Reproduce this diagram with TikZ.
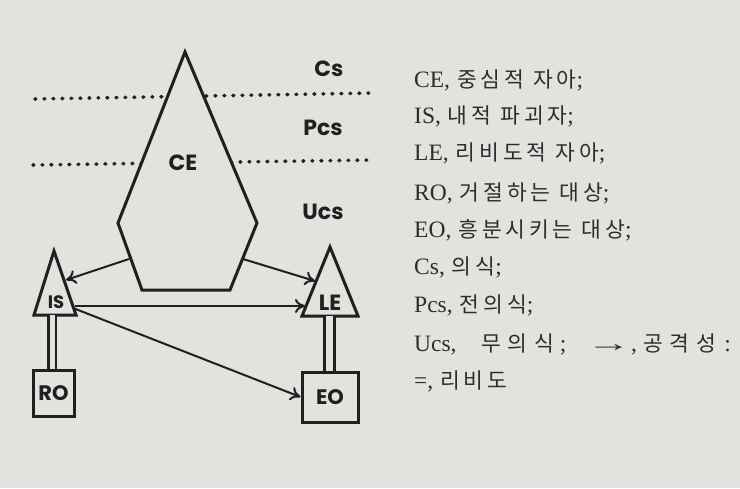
\documentclass[tikz,border=0pt]{standalone}
\usepackage{fontspec}
\usepackage{graphicx}
\setmainfont{Liberation Serif}
\newfontfamily\kr[LetterSpace=18]{Noto Sans CJK KR}
\newfontfamily\krp{Noto Sans CJK KR}
\newfontfamily\geo{Poppins}
\usetikzlibrary{arrows.meta}
\definecolor{paper}{RGB}{226,226,223}
\definecolor{ink}{RGB}{32,32,32}
\definecolor{txt}{RGB}{45,45,45}
\tikzset{
  shapeline/.style={draw=ink, line width=3pt, line join=miter},
  arr/.style={draw=ink, line width=2pt, -{To[length=10pt,width=14pt,line width=2pt]}},
  dots/.style={draw=ink, line width=3.6pt, line cap=round, dash pattern=on 0.8pt off 8.2pt},
  dbl/.style={draw=ink, line width=2.6pt, double=paper},
  boxnode/.style={draw=ink, line width=3pt, inner sep=0pt, font=\geo\bfseries\fontsize{21}{21}\selectfont, text=ink},
  lbl/.style={font=\geo\bfseries\fontsize{22}{22}\selectfont, text=ink, inner sep=0pt},
  slbl/.style={font=\geo\bfseries\fontsize{18}{18}\selectfont, text=ink, inner sep=0pt},
  legend/.style={anchor=base west, inner sep=0pt, text=txt, font=\fontsize{23.5}{23.5}\selectfont}
}
\newcommand{\K}[1]{{\kr\fontsize{21.5}{21.5}\selectfont #1}}
\newcommand{\KP}[1]{{\krp\fontsize{21.5}{21.5}\selectfont #1}}
\begin{document}
\begin{tikzpicture}[x=1pt,y=-1pt]
\fill[paper] (0,0) rectangle (740,488);
\useasboundingbox (0,0) rectangle (740,488);
% level lines
\coordinate (d1a) at (35,99);
\coordinate (d1b) at (373,93);
\coordinate (d2a) at (33,165);
\coordinate (d2b) at (372,160);
\draw[dots] (d1a) -- (d1b);
\draw[dots] (d2a) -- (d2b);
% CE
\coordinate (ceT) at (185,52);
\coordinate (ceR) at (257,223);
\coordinate (ceBR) at (230,290);
\coordinate (ceBL) at (142,290);
\coordinate (ceL) at (118,223);
\fill[paper] (ceT) -- (ceR) -- (ceBR) -- (ceBL) -- (ceL) -- cycle;
\draw[shapeline] (ceT) -- (ceR) -- (ceBR) -- (ceBL) -- (ceL) -- cycle;
\node[lbl] (CE) at (183,163) {CE};
\node[lbl] (Cs) at (329,69) {Cs};
\node[lbl] (Pcs) at (323,128) {Pcs};
\node[lbl] (Ucs) at (323,212) {Ucs};
% IS triangle
\coordinate (isT) at (54,251);
\coordinate (isR) at (76,315);
\coordinate (isL) at (34,315);
\draw[shapeline] (isT) -- (isR) -- (isL) -- cycle;
\node[slbl] (IS) at (56,302) {IS};
% LE triangle
\coordinate (leT) at (330,247);
\coordinate (leR) at (358,316);
\coordinate (leL) at (302,316);
\draw[shapeline] (leT) -- (leR) -- (leL) -- cycle;
\node[lbl] (LE) at (330,303) {LE};
% boxes
\node[boxnode, minimum width=41pt, minimum height=46pt] (RO) at (53.5,393) {RO};
\node[boxnode, minimum width=56pt, minimum height=50pt] (EO) at (330,397) {EO};
% libido links
\coordinate (isB) at (52,315);
\coordinate (leB) at (329.5,316);
\draw[dbl, double distance=5pt] (isB) -- (RO.north -| isB);
\draw[dbl, double distance=7pt] (leB) -- (EO.north -| leB);
% aggression arrows
\coordinate (ceA1) at (129,259);
\coordinate (ceA2) at (243,259);
\coordinate (isIn) at (66,280);
\coordinate (leIn) at (315,281);
\coordinate (isOut) at (75,306);
\coordinate (isOut2) at (73,308);
\coordinate (leIn2) at (305,306);
\draw[arr] (ceA1) -- (isIn);
\draw[arr] (ceA2) -- (leIn);
\draw[arr] (isOut) -- (leIn2);
\draw[arr] (isOut2) -- (EO.west);
% legend
\node[legend] (l1) at (414,87) {CE,\hspace{7pt}\K{중심적\hspace{9pt}자아};};
\node[legend] (l2) at (414,123) {IS,\hspace{7pt}\K{내적\hspace{9pt}파괴자};};
\node[legend] (l3) at (414,160) {LE,\hspace{7pt}\K{리비도적\hspace{9pt}자아};};
\node[legend] (l4) at (414,200) {RO,\hspace{7pt}\K{거절하는\hspace{9pt}대상};};
\node[legend] (l5) at (414,237) {EO,\hspace{7pt}\K{흥분시키는\hspace{9pt}대상};};
\node[legend] (l6) at (414,274) {Cs,\hspace{7pt}\K{의식};};
\node[legend] (l7) at (414,312) {Pcs,\hspace{7pt}\K{전의식};};
\node[legend] (l8) at (414,351) {Ucs,\hspace{25pt}\KP{무\hspace{6.5pt}의\hspace{6.5pt}식}\hspace{6pt};\hspace{20pt}\scalebox{1.9}[1]{→},\hspace{6pt}\KP{공\hspace{7pt}격\hspace{7pt}성}\hspace{8pt}:};
\node[legend] (l9) at (414,388) {=,\hspace{7pt}\K{리비도}};
\end{tikzpicture}
\end{document}
